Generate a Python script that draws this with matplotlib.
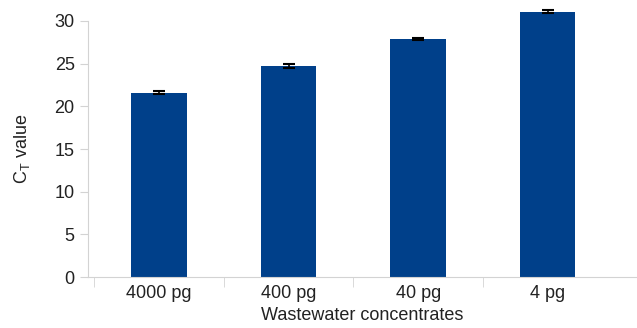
import numpy as np
import matplotlib.pyplot as plt

labels = ['4000 pg', '400 pg', '40 pg', '4 pg']
ct = [21.6, 24.7, 27.9, 31.1]
err = [0.2, 0.25, 0.1, 0.15]

plt.rcParams['font.family'] = ['Liberation Sans', 'DejaVu Sans']
plt.rcParams['mathtext.default'] = 'regular'

fig = plt.figure(figsize=(6.37, 3.28), dpi=100)
ax = fig.add_axes([0.138, 0.155, 0.862, 0.781])

x = np.arange(len(labels))
ax.bar(x, ct, width=0.43, color='#00408a', zorder=2, clip_on=False)
eb = ax.errorbar(x, ct, yerr=err, fmt='none', ecolor='black', elinewidth=1.2,
                 capsize=4.3, capthick=1.5, zorder=3)
# bar 4 pokes above the top of the axis, keep its error bar visible too
for art in list(eb.lines[1]) + list(eb.lines[2]):
    art.set_clip_on(False)

ax.set_xlim(-0.55, 3.69)
ax.set_ylim(0, 30)
ax.set_yticks(range(0, 31, 5))
ax.set_xticks(x)
ax.set_xticklabels(labels)
ax.set_xticks(np.arange(-0.5, 3, 1), minor=True)

gray = '#d3d3d3'
for s in ['top', 'right']:
    ax.spines[s].set_visible(False)
ax.spines['left'].set_color(gray)
ax.spines['bottom'].set_color(gray)
ax.tick_params(axis='y', colors=gray, labelcolor='#222222', labelsize=13, length=6)
ax.tick_params(axis='x', which='major', length=0, labelcolor='#222222', labelsize=13, pad=6)
ax.tick_params(axis='x', which='minor', length=7, color=gray)

ax.set_xlabel('Wastewater concentrates', fontsize=13, color='#222222', labelpad=3)
ax.set_ylabel('C$_T$ value', fontsize=13, color='#222222', labelpad=16)

fig.savefig('out.png', dpi=100)
